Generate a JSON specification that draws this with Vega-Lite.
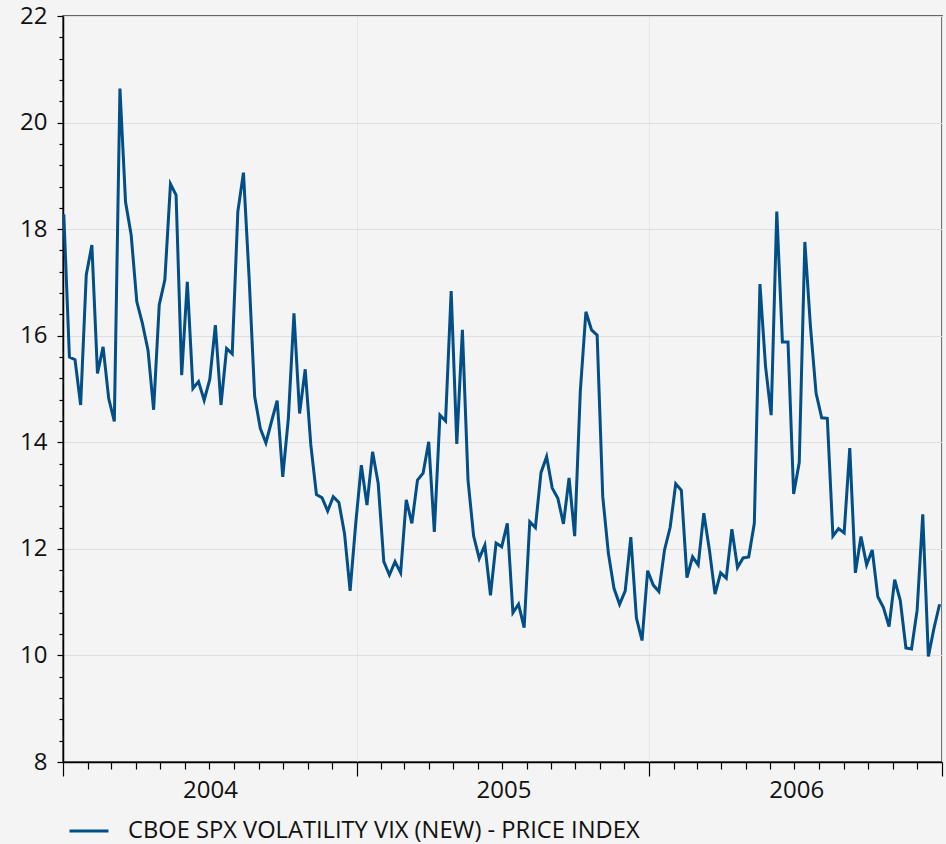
{
  "$schema": "https://vega.github.io/schema/vega-lite/v6.json",
  "width": 879,
  "height": 746,
  "autosize": {"type": "none"},
  "padding": {"left": 63, "top": 16, "right": 4, "bottom": 82},
  "background": "#f4f4f4",
  "config": {
    "view": {"fill": "#f4f4f4", "stroke": "#666666", "strokeWidth": 1.8},
    "font": "Open Sans",
    "axis": {"labelFont": "Open Sans", "labelFontSize": 24, "labelColor": "#111111", "domainColor": "#000000", "domainWidth": 1.5, "tickColor": "#000000", "tickWidth": 1.2, "gridWidth": 1, "title": null}
  },
  "data": {
    "values": [
      {"date": "2004-01-02", "vix": 18.28}, {"date": "2004-01-09", "vix": 15.60}, {"date": "2004-01-16", "vix": 15.55}, {"date": "2004-01-23", "vix": 14.70},
      {"date": "2004-01-30", "vix": 17.14}, {"date": "2004-02-06", "vix": 17.70}, {"date": "2004-02-13", "vix": 15.29}, {"date": "2004-02-20", "vix": 15.79},
      {"date": "2004-02-27", "vix": 14.82}, {"date": "2004-03-05", "vix": 14.39}, {"date": "2004-03-12", "vix": 20.64}, {"date": "2004-03-19", "vix": 18.51},
      {"date": "2004-03-26", "vix": 17.89}, {"date": "2004-04-02", "vix": 16.64}, {"date": "2004-04-09", "vix": 16.23}, {"date": "2004-04-16", "vix": 15.73},
      {"date": "2004-04-23", "vix": 14.61}, {"date": "2004-04-30", "vix": 16.58}, {"date": "2004-05-07", "vix": 17.05}, {"date": "2004-05-14", "vix": 18.85},
      {"date": "2004-05-21", "vix": 18.64}, {"date": "2004-05-28", "vix": 15.26}, {"date": "2004-06-04", "vix": 17.01}, {"date": "2004-06-11", "vix": 15.01},
      {"date": "2004-06-18", "vix": 15.14}, {"date": "2004-06-25", "vix": 14.79}, {"date": "2004-07-02", "vix": 15.18}, {"date": "2004-07-09", "vix": 16.20},
      {"date": "2004-07-16", "vix": 14.70}, {"date": "2004-07-23", "vix": 15.76}, {"date": "2004-07-30", "vix": 15.66}, {"date": "2004-08-06", "vix": 18.33},
      {"date": "2004-08-13", "vix": 19.06}, {"date": "2004-08-20", "vix": 17.11}, {"date": "2004-08-27", "vix": 14.86}, {"date": "2004-09-03", "vix": 14.26},
      {"date": "2004-09-10", "vix": 13.99}, {"date": "2004-09-17", "vix": 14.39}, {"date": "2004-09-24", "vix": 14.78}, {"date": "2004-10-01", "vix": 13.35},
      {"date": "2004-10-08", "vix": 14.45}, {"date": "2004-10-15", "vix": 16.42}, {"date": "2004-10-22", "vix": 14.54}, {"date": "2004-10-29", "vix": 15.37},
      {"date": "2004-11-05", "vix": 13.95}, {"date": "2004-11-12", "vix": 13.02}, {"date": "2004-11-19", "vix": 12.96}, {"date": "2004-11-26", "vix": 12.71},
      {"date": "2004-12-03", "vix": 12.98}, {"date": "2004-12-10", "vix": 12.87}, {"date": "2004-12-17", "vix": 12.29}, {"date": "2004-12-24", "vix": 11.21},
      {"date": "2004-12-31", "vix": 12.48},
      {"date": "2005-01-07", "vix": 13.57}, {"date": "2005-01-14", "vix": 12.82}, {"date": "2005-01-21", "vix": 13.82}, {"date": "2005-01-28", "vix": 13.23},
      {"date": "2005-02-04", "vix": 11.76}, {"date": "2005-02-11", "vix": 11.51}, {"date": "2005-02-18", "vix": 11.76}, {"date": "2005-02-25", "vix": 11.55},
      {"date": "2005-03-04", "vix": 12.92}, {"date": "2005-03-11", "vix": 12.48}, {"date": "2005-03-18", "vix": 13.29}, {"date": "2005-03-25", "vix": 13.42},
      {"date": "2005-04-01", "vix": 14.01}, {"date": "2005-04-08", "vix": 12.32}, {"date": "2005-04-15", "vix": 14.51}, {"date": "2005-04-22", "vix": 14.40},
      {"date": "2005-04-29", "vix": 16.84}, {"date": "2005-05-06", "vix": 13.97}, {"date": "2005-05-13", "vix": 16.11}, {"date": "2005-05-20", "vix": 13.29},
      {"date": "2005-05-27", "vix": 12.24}, {"date": "2005-06-03", "vix": 11.82}, {"date": "2005-06-10", "vix": 12.07}, {"date": "2005-06-17", "vix": 11.13},
      {"date": "2005-06-24", "vix": 12.11}, {"date": "2005-07-01", "vix": 12.04}, {"date": "2005-07-08", "vix": 12.48}, {"date": "2005-07-15", "vix": 10.80},
      {"date": "2005-07-22", "vix": 10.96}, {"date": "2005-07-29", "vix": 10.52}, {"date": "2005-08-05", "vix": 12.51}, {"date": "2005-08-12", "vix": 12.40},
      {"date": "2005-08-19", "vix": 13.43}, {"date": "2005-08-26", "vix": 13.73}, {"date": "2005-09-02", "vix": 13.14}, {"date": "2005-09-09", "vix": 12.95},
      {"date": "2005-09-16", "vix": 12.47}, {"date": "2005-09-23", "vix": 13.33}, {"date": "2005-09-30", "vix": 12.24}, {"date": "2005-10-07", "vix": 14.95},
      {"date": "2005-10-14", "vix": 16.45}, {"date": "2005-10-21", "vix": 16.11}, {"date": "2005-10-28", "vix": 16.01}, {"date": "2005-11-04", "vix": 12.98},
      {"date": "2005-11-11", "vix": 11.92}, {"date": "2005-11-18", "vix": 11.26}, {"date": "2005-11-25", "vix": 10.96}, {"date": "2005-12-02", "vix": 11.21},
      {"date": "2005-12-09", "vix": 12.22}, {"date": "2005-12-16", "vix": 10.70}, {"date": "2005-12-23", "vix": 10.28}, {"date": "2005-12-30", "vix": 11.59},
      {"date": "2006-01-06", "vix": 11.32}, {"date": "2006-01-13", "vix": 11.20}, {"date": "2006-01-20", "vix": 11.98}, {"date": "2006-01-27", "vix": 12.40},
      {"date": "2006-02-03", "vix": 13.22}, {"date": "2006-02-10", "vix": 13.10}, {"date": "2006-02-17", "vix": 11.46}, {"date": "2006-02-24", "vix": 11.85},
      {"date": "2006-03-03", "vix": 11.70}, {"date": "2006-03-10", "vix": 12.67}, {"date": "2006-03-17", "vix": 11.98}, {"date": "2006-03-24", "vix": 11.15},
      {"date": "2006-03-31", "vix": 11.55}, {"date": "2006-04-07", "vix": 11.45}, {"date": "2006-04-14", "vix": 12.37}, {"date": "2006-04-21", "vix": 11.65},
      {"date": "2006-04-28", "vix": 11.83}, {"date": "2006-05-05", "vix": 11.85}, {"date": "2006-05-12", "vix": 12.48}, {"date": "2006-05-19", "vix": 16.97},
      {"date": "2006-05-26", "vix": 15.42}, {"date": "2006-06-02", "vix": 14.51}, {"date": "2006-06-09", "vix": 18.33}, {"date": "2006-06-16", "vix": 15.88},
      {"date": "2006-06-23", "vix": 15.88}, {"date": "2006-06-30", "vix": 13.03}, {"date": "2006-07-07", "vix": 13.62}, {"date": "2006-07-14", "vix": 17.76},
      {"date": "2006-07-21", "vix": 16.17}, {"date": "2006-07-28", "vix": 14.92}, {"date": "2006-08-04", "vix": 14.46}, {"date": "2006-08-11", "vix": 14.45},
      {"date": "2006-08-18", "vix": 12.24}, {"date": "2006-08-25", "vix": 12.38}, {"date": "2006-09-01", "vix": 12.30}, {"date": "2006-09-08", "vix": 13.89},
      {"date": "2006-09-15", "vix": 11.55}, {"date": "2006-09-22", "vix": 12.23}, {"date": "2006-09-29", "vix": 11.70}, {"date": "2006-10-06", "vix": 11.98},
      {"date": "2006-10-13", "vix": 11.10}, {"date": "2006-10-20", "vix": 10.90}, {"date": "2006-10-27", "vix": 10.54}, {"date": "2006-11-03", "vix": 11.42},
      {"date": "2006-11-10", "vix": 11.03}, {"date": "2006-11-17", "vix": 10.14}, {"date": "2006-11-24", "vix": 10.12}, {"date": "2006-12-01", "vix": 10.85},
      {"date": "2006-12-08", "vix": 12.65}, {"date": "2006-12-15", "vix": 9.98}, {"date": "2006-12-22", "vix": 10.51}, {"date": "2006-12-29", "vix": 10.96}
    ]
  },
  "mark": {"type": "line", "strokeWidth": 3},
  "encoding": {
    "x": {
      "field": "date",
      "type": "temporal",
      "scale": {"type": "utc", "nice": false, "domain": [{"year": 2004, "month": 1, "date": 1, "utc": true}, {"year": 2007, "month": 1, "date": 1, "utc": true}]},
      "axis": {
        "tickCount": {"interval": "month", "step": 1},
        "tickSize": {"condition": {"test": "utcmonth(datum.value) === 0", "value": 14}, "value": 7},
        "grid": true,
        "gridColor": "#e6e6e6",
        "gridOpacity": {"condition": {"test": "utcmonth(datum.value) === 0", "value": 1}, "value": 0},
        "labelExpr": "utcmonth(datum.value) === 0 && utcyear(datum.value) < 2007 ? utcFormat(datum.value, '%Y') : ''",
        "labelOffset": 147,
        "labelAlign": "center",
        "labelPadding": 2,
        "labelOverlap": false,
        "labelBound": false,
        "labelFlush": false
      }
    },
    "y": {
      "field": "vix",
      "type": "quantitative",
      "scale": {"domain": [8, 22], "nice": false, "zero": false},
      "axis": {
        "values": [8, 8.4, 8.8, 9.2, 9.6, 10, 10.4, 10.8, 11.2, 11.6, 12, 12.4, 12.8, 13.2, 13.6, 14, 14.4, 14.8, 15.2, 15.6, 16, 16.4, 16.8, 17.2, 17.6, 18, 18.4, 18.8, 19.2, 19.6, 20, 20.4, 20.8, 21.2, 21.6, 22],
        "tickSize": {"condition": {"test": "datum.value % 2 === 0", "value": 6}, "value": 4},
        "grid": true,
        "gridColor": "#dedede",
        "gridOpacity": {"condition": {"test": "datum.value % 2 === 0", "value": 1}, "value": 0},
        "labelExpr": "datum.value % 2 === 0 ? format(datum.value, 'd') : ''",
        "labelPadding": 10,
        "labelOverlap": false,
        "labelBound": false,
        "labelFlush": false
      }
    },
    "color": {
      "datum": "CBOE SPX VOLATILITY VIX (NEW) - PRICE INDEX",
      "type": "nominal",
      "scale": {"range": ["#024e86"]},
      "legend": {
        "orient": "none",
        "legendX": 5,
        "legendY": 794,
        "title": null,
        "padding": 0,
        "symbolType": "stroke",
        "symbolSize": 1521,
        "symbolStrokeWidth": 3,
        "labelFont": "Open Sans",
        "labelFontSize": 23.7,
        "labelColor": "#111111",
        "labelOffset": 18,
        "labelLimit": 900
      }
    }
  }
}
